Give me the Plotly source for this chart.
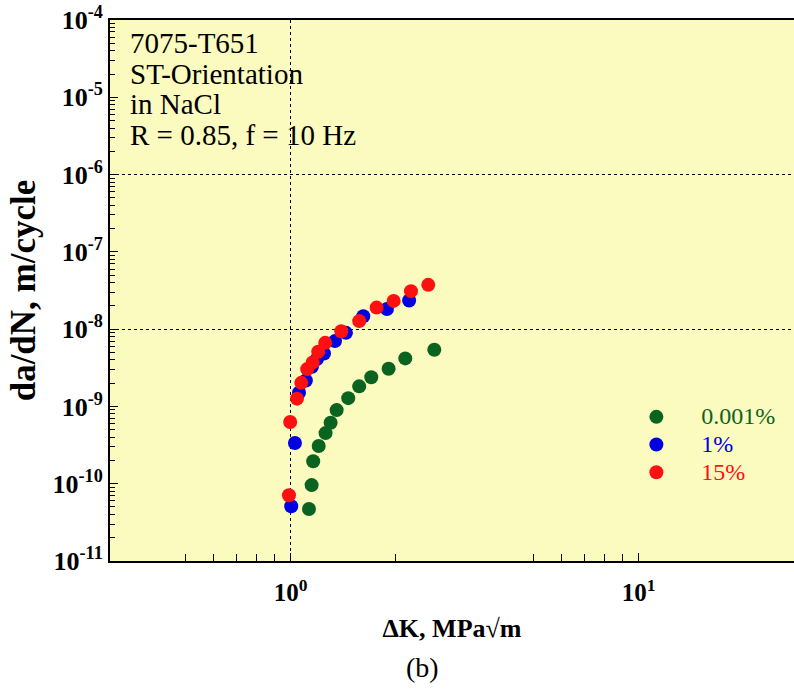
import math
import plotly.graph_objects as go

# Crack growth rate data, 7075-T651 ST orientation in NaCl
dk_0001 = [1.129, 1.149, 1.161, 1.204, 1.26, 1.303, 1.356, 1.464, 1.574, 1.705, 1.912, 2.135, 2.587]
rate_0001 = [4.7e-11, 9.6e-11, 1.95e-10, 3.07e-10, 4.52e-10, 6.15e-10, 8.97e-10, 1.28e-9, 1.82e-9,
             2.39e-9, 3.07e-9, 4.18e-9, 5.4e-9]

dk_1 = [1.004, 1.029, 1.057, 1.106, 1.151, 1.19, 1.247, 1.341, 1.442, 1.617, 1.891, 2.19]
rate_1 = [5.1e-11, 3.36e-10, 1.5e-9, 2.17e-9, 3.26e-9, 4.1e-9, 4.85e-9, 7.0e-9, 8.95e-9, 1.47e-8,
          1.82e-8, 2.35e-8]

dk_15 = [0.989, 0.997, 1.043, 1.073, 1.116, 1.157, 1.2, 1.257, 1.398, 1.574, 1.766, 1.977, 2.217, 2.486]
rate_15 = [7.1e-11, 6.3e-10, 1.26e-9, 2.02e-9, 3.04e-9, 3.71e-9, 5.09e-9, 6.65e-9, 9.4e-9, 1.27e-8,
           1.9e-8, 2.32e-8, 3.1e-8, 3.74e-8]

series_names = ["0.001%", "1%", "15%"]
series_colors = ["#0b6320", "#0000e0", "#ff1010"]

y_decades = [-11, -10, -9, -8, -7, -6, -5, -4]
y_ticktext = [f"10<sup>{d}</sup>" for d in y_decades]
x_major = [1, 10]
x_ticktext = ["10<sup>0</sup>", "10<sup>1</sup>"]
x_minor = [0.5, 0.6, 0.7, 0.8, 0.9, 2, 5, 6, 7, 8, 9]
y_minor = [m * 10.0 ** d for d in range(-11, -4) for m in range(2, 10)]
y_grid = [1e-6, 1e-8]
x_grid = [1]

info_lines = ["7075-T651", "ST-Orientation", "in NaCl", "R = 0.85, f = 10 Hz"]

SERIF = "Liberation Serif, Times New Roman, serif"

W, H = 794, 691
L, R, T, B = 110, 0, 20, 130
plot_h = H - T - B

fig = go.Figure()

for xs, ys, name, col in zip([dk_0001, dk_1, dk_15], [rate_0001, rate_1, rate_15],
                             series_names, series_colors):
    fig.add_trace(go.Scatter(
        x=xs, y=ys, mode="markers",
        name=f'<span style="font-size:24px;color:{col}">{name}</span>',
        marker=dict(size=14, color=col, line=dict(width=0)),
    ))

# helper trace carrying the dashed reference grid axes
fig.add_trace(go.Scatter(x=[1], y=[1e-6], xaxis="x2", yaxis="y2", mode="markers",
                         marker=dict(opacity=0), showlegend=False, hoverinfo="skip"))

xrange = [math.log10(0.3027), 1.4463]
yrange = [-11, -4]

fig.update_layout(
    width=W, height=H,
    margin=dict(l=L, r=R, t=T, b=B, pad=0),
    paper_bgcolor="white",
    plot_bgcolor="#fbfbc0",
    font=dict(family=SERIF, color="black"),
    showlegend=True,
    legend=dict(
        x=0.733, y=(561 - 412 + 14) / plot_h, xanchor="left", yanchor="top",
        bgcolor="rgba(0,0,0,0)", itemwidth=80,
        font=dict(family=SERIF, size=19),
    ),
    xaxis=dict(
        type="log", range=xrange,
        showline=True, linecolor="black", linewidth=2, mirror=True,
        tickvals=x_major, ticktext=x_ticktext,
        ticks="inside", ticklen=8, tickcolor="black", tickwidth=1,
        tickfont=dict(family=SERIF, size=25, weight="bold"),
        ticklabelstandoff=8,
        showgrid=False, zeroline=False,
        minor=dict(tickvals=x_minor, ticks="inside", ticklen=7, tickcolor="black", showgrid=False),
        title=dict(text="ΔK, MPa√m", font=dict(family=SERIF, size=26, weight="bold"), standoff=14),
    ),
    yaxis=dict(
        type="log", range=yrange,
        showline=True, linecolor="black", linewidth=2, mirror=False,
        tickvals=[10.0 ** d for d in y_decades], ticktext=y_ticktext,
        ticks="inside", ticklen=8, tickcolor="black", tickwidth=1,
        tickfont=dict(family=SERIF, size=26, weight="bold"),
        ticklabelstandoff=0,
        showgrid=False, zeroline=False,
        minor=dict(tickvals=y_minor, ticks="inside", ticklen=5, tickcolor="black", showgrid=False),
        title=dict(text="da/dN, m/cycle", font=dict(family=SERIF, size=35, weight="bold"), standoff=6),
    ),
    xaxis2=dict(
        type="log", range=xrange, overlaying="x", tickvals=x_grid, showticklabels=False,
        ticks="", showgrid=True, gridcolor="black", gridwidth=1, griddash="3px,3px",
        showline=False, zeroline=False,
    ),
    yaxis2=dict(
        type="log", range=yrange, overlaying="y", tickvals=y_grid, showticklabels=False,
        ticks="", showgrid=True, gridcolor="black", gridwidth=1, griddash="3px,3px",
        showline=False, zeroline=False,
    ),
)

# specimen / test condition block
line_centres = [45, 76, 106, 137]
for txt, yc in zip(info_lines, line_centres):
    fig.add_annotation(
        text=txt, xref="paper", yref="paper",
        x=(128 - L) / (W - L - R), y=(561 - yc + 2) / plot_h,
        xanchor="left", yanchor="middle", showarrow=False,
        font=dict(family=SERIF, size=29, color="black"),
    )

# panel label
fig.add_annotation(
    text="(b)", xref="paper", yref="paper",
    x=(422 - L) / (W - L - R), y=-(667 - 561) / plot_h,
    xanchor="center", yanchor="middle", showarrow=False,
    font=dict(family=SERIF, size=28, color="black"),
)

fig.write_html("out.html")
